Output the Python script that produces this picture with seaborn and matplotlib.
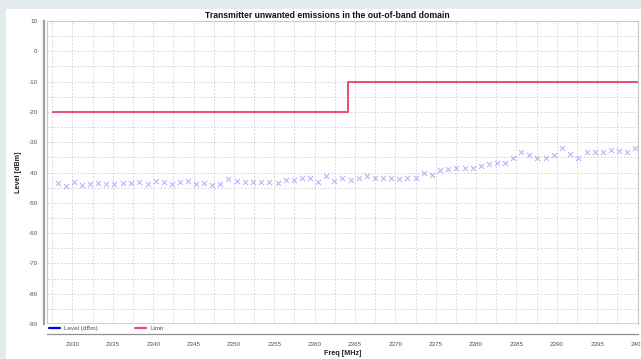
import numpy as np
import seaborn as sns
import matplotlib.pyplot as plt
import matplotlib.ticker as ticker
from matplotlib.lines import Line2D
from matplotlib.patches import Rectangle

# Measured level points (MHz, dBm)
freq = [2328.2, 2329.2, 2330.2, 2331.2, 2332.2, 2333.2, 2334.2, 2335.2, 2336.3, 2337.3,
        2338.3, 2339.3, 2340.3, 2341.3, 2342.3, 2343.3, 2344.3, 2345.3, 2346.3, 2347.3,
        2348.3, 2349.3, 2350.4, 2351.4, 2352.4, 2353.4, 2354.4, 2355.4, 2356.4, 2357.4,
        2358.4, 2359.4, 2360.4, 2361.4, 2362.4, 2363.4, 2364.5, 2365.5, 2366.5, 2367.5,
        2368.5, 2369.5, 2370.5, 2371.5, 2372.5, 2373.5, 2374.5, 2375.5, 2376.5, 2377.5,
        2378.6, 2379.6, 2380.6, 2381.6, 2382.6, 2383.6, 2384.6, 2385.6, 2386.6, 2387.6,
        2388.6, 2389.6, 2390.6, 2391.6, 2392.6, 2393.7, 2394.7, 2395.7, 2396.7, 2397.7,
        2398.7, 2399.7]
level = [-43.6, -44.4, -43.1, -44.1, -43.8, -43.4, -43.9, -43.8, -43.6, -43.4,
         -43.1, -43.8, -42.8, -43.0, -43.7, -43.0, -42.8, -43.7, -43.6, -44.0,
         -43.8, -42.1, -42.8, -43.3, -43.0, -43.0, -43.2, -43.6, -42.5, -42.5,
         -41.9, -41.9, -43.0, -41.2, -42.7, -41.9, -42.5, -41.9, -41.2, -41.7,
         -41.7, -41.7, -42.2, -41.7, -41.7, -40.3, -40.8, -39.3, -38.7, -38.4,
         -38.4, -38.4, -37.7, -37.3, -36.8, -37.0, -35.3, -33.3, -34.2, -35.3,
         -35.3, -34.2, -32.0, -34.0, -35.3, -33.3, -33.1, -33.1, -32.6, -32.8,
         -33.3, -32.0]

# Limit mask (step)
limit_freq = [2327.6, 2364.1, 2400.0]
limit_level = [-20, -10, -10]

sns.set_style('white')
plt.rcParams['font.family'] = ['Liberation Sans', 'DejaVu Sans']
plt.rcParams['axes.unicode_minus'] = False

fig = plt.figure(figsize=(6.41, 3.59), dpi=100, facecolor='#e3ebef')
fig.patches.append(Rectangle((6/641, 0), 1, 350/359, transform=fig.transFigure,
                             facecolor='white', edgecolor='none', zorder=-10))
ax = fig.add_axes([47/641, 35/359, 591/641, 303/359])
ax.set_facecolor('white')

# Grid every 2.5 MHz and 5 dB
ax.xaxis.set_major_locator(ticker.MultipleLocator(5))
ax.xaxis.set_minor_locator(ticker.MultipleLocator(2.5))
ax.yaxis.set_major_locator(ticker.MultipleLocator(10))
ax.yaxis.set_minor_locator(ticker.MultipleLocator(5))
ax.grid(True, which='both', color='#cdcdcd', linestyle=(0, (2, 2)), linewidth=0.6)
ax.set_axisbelow(True)

sns.lineplot(x=limit_freq, y=limit_level, ax=ax, color='#f04a6e', linewidth=1.4,
             drawstyle='steps-post', estimator=None, sort=False)
sns.scatterplot(x=freq, y=level, ax=ax, marker='x', color='#8c8cff', s=14,
                linewidth=0.7, alpha=0.7)

ax.set_xlim(2326.85, 2400.05)
ax.set_ylim(-90, 10)

# Frame and offset axes (outward offsets are in points)
for side in ['top', 'right']:
    ax.spines[side].set_color('#c8c8c8')
    ax.spines[side].set_linewidth(0.8)
ax.spines['left'].set_position(('outward', 2.2))
ax.spines['left'].set_color('#a0a0a0')
ax.spines['left'].set_linewidth(1.6)
ax.spines['bottom'].set_position(('outward', 7.2))
ax.spines['bottom'].set_color('#909090')
ax.spines['bottom'].set_linewidth(0.9)
ax.axhline(-90, color='#c8c8c8', linewidth=1.2, zorder=1)
ax.axvline(2326.85, color='#c8c8c8', linewidth=0.8, zorder=1)

ax.tick_params(axis='both', which='major', labelsize=4.5, labelcolor='#505050',
               color='#707070', length=3, width=0.6, pad=1.5)
ax.tick_params(axis='both', which='minor', color='#707070', length=2, width=0.6)
ax.tick_params(axis='x', pad=2.5)
ax.xaxis.set_major_formatter(ticker.FormatStrFormatter('%d'))

ax.set_xlabel('Freq [MHz]', fontsize=5.2, fontweight='bold', color='#202020', labelpad=2.5)
ax.set_ylabel('Level [dBm]', fontsize=5.2, fontweight='bold', color='#202020', labelpad=5)
fig.text(327/641, 1 - 16/359, 'Transmitter unwanted emissions in the out-of-band domain',
         ha='center', va='center', fontsize=6.2, fontweight='bold', color='#111111')

handles = [Line2D([], [], color='#0000ee', linewidth=1.6),
           Line2D([], [], color='#f04a6e', linewidth=1.6)]
ax.legend(handles, ['Level (dBm)', 'Limit'], loc='center left',
          bbox_to_anchor=(0.0, -0.014), ncol=2, frameon=False, fontsize=4.5,
          handlelength=1.8, handletextpad=0.6, columnspacing=6.0, borderpad=0,
          borderaxespad=0.3, labelcolor='#505050')

fig.savefig('out.png', dpi=100, facecolor=fig.get_facecolor())
